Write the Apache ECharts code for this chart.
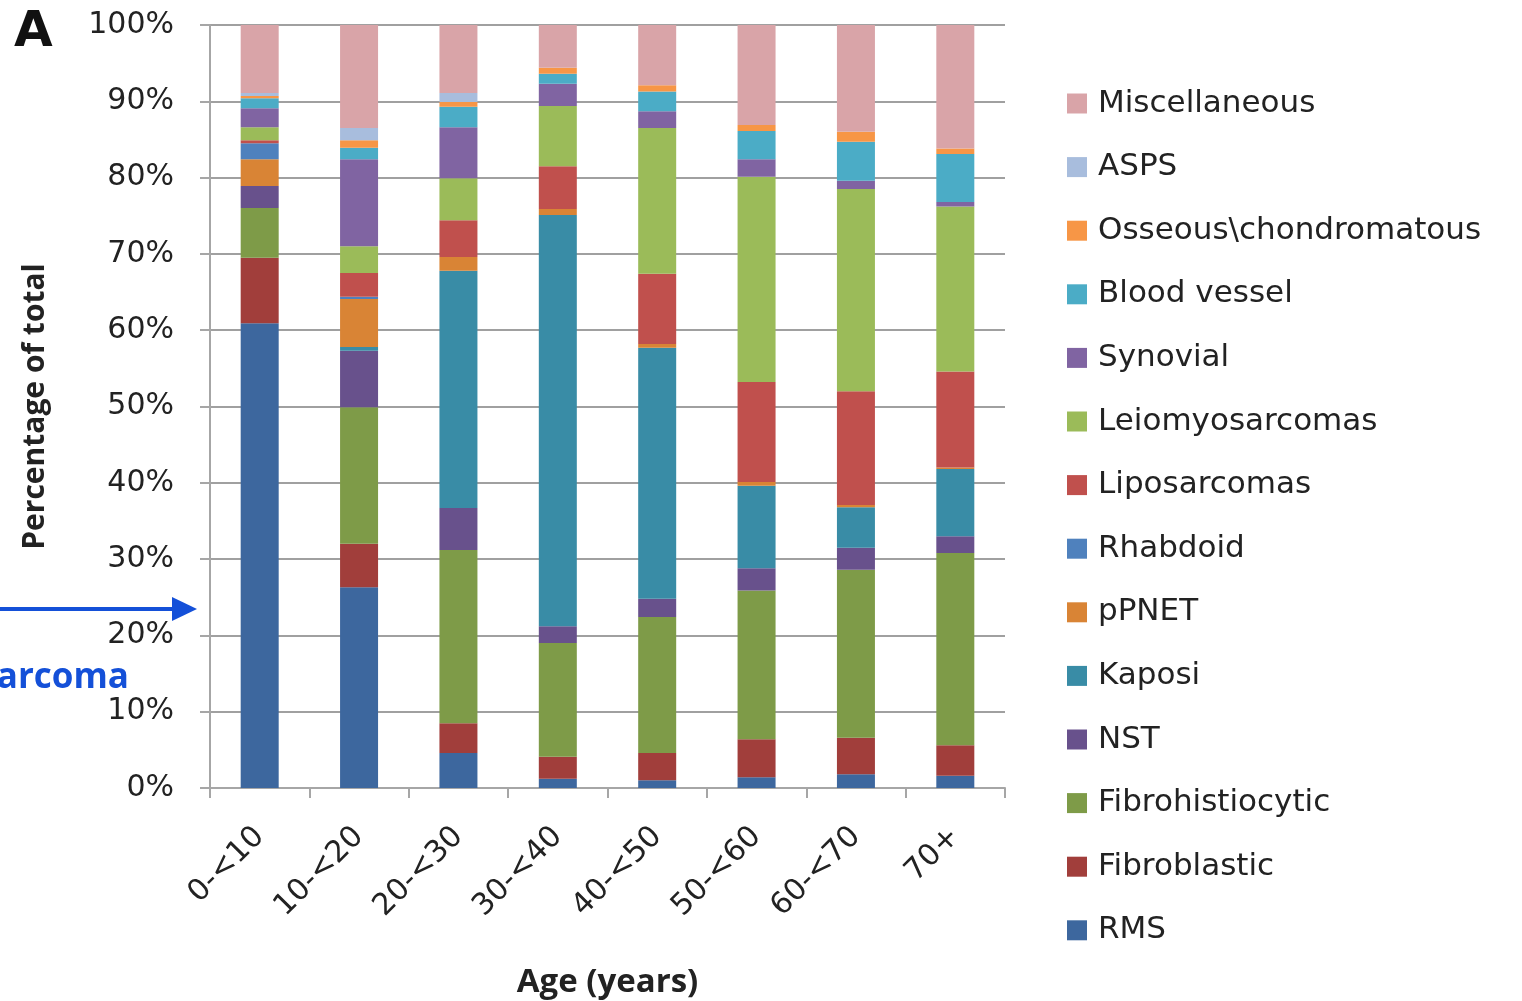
<!DOCTYPE html>
<html><head><meta charset="utf-8">
<script src="https://cdn.jsdelivr.net/npm/echarts@6/dist/echarts.min.js"></script>
<style>html,body{margin:0;padding:0;background:#fff}#c{width:1522px;height:1001px}</style>
</head><body><div id="c"></div>
<script>
const categories = ['0-<10','10-<20','20-<30','30-<40','40-<50','50-<60','60-<70','70+'];
const yTicks = [0,10,20,30,40,50,60,70,80,90,100];
// series values (percent of total), bottom to top
const RMS            = [60.9, 26.3, 4.6, 1.2, 1.0, 1.4, 1.8, 1.6];
const Fibroblastic   = [8.6, 5.7, 3.9, 2.9, 3.6, 5.0, 4.8, 4.0];
const Fibrohistio    = [6.5, 17.9, 22.7, 14.9, 17.8, 19.5, 22.0, 25.2];
const NST            = [2.9, 7.4, 5.5, 2.2, 2.4, 2.9, 2.9, 2.2];
const Kaposi         = [0, 0.5, 31.1, 53.9, 32.9, 10.8, 5.3, 8.8];
const pPNET          = [3.5, 6.3, 1.8, 0.8, 0.5, 0.5, 0.3, 0.2];
const Rhabdoid       = [2.1, 0.3, 0, 0, 0, 0, 0, 0];
const Liposarcomas   = [0.4, 3.1, 4.8, 5.6, 9.2, 13.1, 14.9, 12.6];
const Leiomyo        = [1.7, 3.5, 5.5, 7.9, 19.1, 26.9, 26.5, 21.6];
const Synovial       = [2.5, 11.4, 6.7, 2.9, 2.2, 2.3, 1.1, 0.6];
const BloodVessel    = [1.3, 1.5, 2.7, 1.3, 2.6, 3.7, 5.1, 6.3];
const Osseous        = [0.3, 1.0, 0.6, 0.8, 0.8, 0.8, 1.3, 0.7];
const ASPS           = [0.4, 1.6, 1.2, 0, 0, 0, 0, 0];
const Misc           = [8.9, 13.5, 8.9, 5.6, 7.9, 13.1, 14.0, 16.3];

const seriesNames = ['RMS','Fibroblastic','Fibrohistiocytic','NST','Kaposi','pPNET','Rhabdoid','Liposarcomas','Leiomyosarcomas','Synovial','Blood vessel','Osseous\\chondromatous','ASPS','Miscellaneous'];
const seriesData = [RMS,Fibroblastic,Fibrohistio,NST,Kaposi,pPNET,Rhabdoid,Liposarcomas,Leiomyo,Synovial,BloodVessel,Osseous,ASPS,Misc];
const colors = ['#3D679E','#A13E3B','#7E9B48','#68518C','#398CA6','#D98435','#4F81BD','#C0504D','#9BBB59','#8064A2','#4BACC6','#F79646','#A8BDDD','#D9A4A8'];

const chart = echarts.init(document.getElementById('c'), null, {renderer:'canvas'});
const labelFont = 'DejaVu Sans';
chart.setOption({
  animation:false,
  backgroundColor:'#fff',
  grid:{left:210,right:517,top:25,bottom:213,outerBoundsMode:'none',containLabel:false},
  legend:{
    orient:'vertical', left:1062, top:83,
    itemWidth:20, itemHeight:20, itemGap:32.6,
    icon:'rect',
    data: seriesNames.slice().reverse(),
    textStyle:{fontFamily:labelFont,fontSize:31,color:'#222',lineHeight:30,padding:[0,0,0,6]}
  },
  xAxis:{
    type:'category', data:categories,
    axisLine:{lineStyle:{color:'#a6a6a6',width:2}},
    axisTick:{show:true,length:10,lineStyle:{color:'#a6a6a6',width:2}},
    axisLabel:{rotate:45,margin:44,fontFamily:labelFont,fontSize:30,color:'#222',interval:0},
    name:'Age (years)', nameLocation:'middle', nameGap:178,
    nameTextStyle:{fontFamily:'Open Sans',fontWeight:'bold',fontSize:33,color:'#222'}
  },
  yAxis:{
    type:'value', min:0, max:100, interval:10,
    axisLine:{show:true,lineStyle:{color:'#a6a6a6',width:2}},
    axisTick:{show:true,length:10,lineStyle:{color:'#a6a6a6',width:2}},
    splitLine:{lineStyle:{color:'#a0a0a0',width:2}},
    axisLabel:{margin:36,fontFamily:labelFont,fontSize:30,color:'#222',formatter:v=>v+'%'},
    name:'Percentage of total', nameLocation:'middle', nameGap:160, nameRotate:90,
    nameTextStyle:{fontFamily:'Open Sans',fontWeight:'bold',fontSize:30,color:'#222'}
  },
  series: seriesNames.map((n,i)=>({
    name:n, type:'bar', stack:'total', barWidth:38,
    itemStyle:{color:colors[i]},
    data: seriesData[i]
  })),
  graphic:[
    {type:'text',left:14,top:8,style:{text:'A',font:'bold 50px "DejaVu Sans"',fill:'#111'}},
    {type:'line',shape:{x1:0,y1:609,x2:178,y2:609},style:{stroke:'#1450D8',lineWidth:4}},
    {type:'polygon',shape:{points:[[172,597],[197,609],[172,621]]},style:{fill:'#1450D8'}},
    {type:'text',x:129,y:678,style:{text:'arcoma',font:'bold 35px "Open Sans"',fill:'#1450D8',align:'right',verticalAlign:'middle'}}
  ]
});
</script></body></html>
